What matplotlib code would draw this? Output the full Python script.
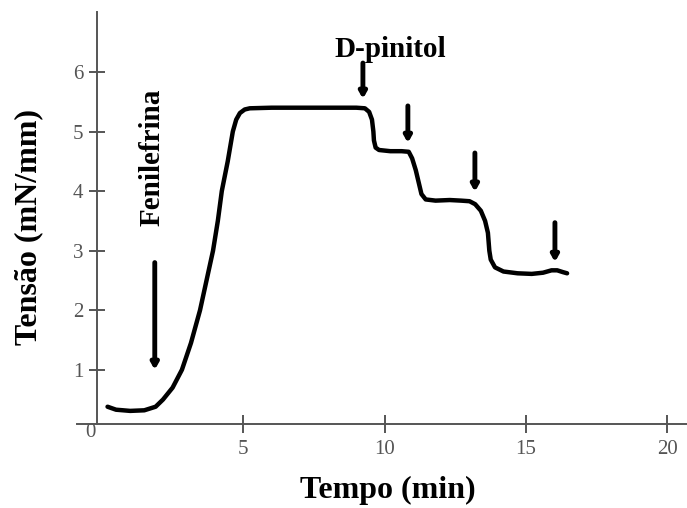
import matplotlib.pyplot as plt

plt.rcParams['font.family'] = ['Liberation Serif', 'DejaVu Serif']

# tension trace
tempo = [0.2, 0.5, 1.0, 1.5, 1.9, 2.16, 2.5, 2.83, 3.15, 3.47, 3.7, 3.93,
         4.1, 4.24, 4.45, 4.63, 4.75, 4.88, 5.05, 5.23, 6.0, 7.0, 8.0, 9.0,
         9.3, 9.45, 9.55, 9.6, 9.62, 9.68, 9.8, 10.2, 10.6, 10.85, 10.97,
         11.1, 11.2, 11.3, 11.45, 11.8, 12.3, 12.7, 13.0, 13.2, 13.4, 13.55,
         13.65, 13.7, 13.75, 13.9, 14.2, 14.7, 15.2, 15.6, 15.9, 16.1, 16.3,
         16.45]
tensao = [0.38, 0.33, 0.31, 0.32, 0.38, 0.5, 0.7, 1.0, 1.45, 2.0, 2.5, 3.0,
          3.5, 4.0, 4.5, 5.0, 5.2, 5.31, 5.37, 5.39, 5.40, 5.40, 5.40, 5.40,
          5.39, 5.33, 5.2, 5.0, 4.85, 4.73, 4.69, 4.67, 4.67, 4.66, 4.55,
          4.35, 4.15, 3.95, 3.86, 3.84, 3.85, 3.84, 3.83, 3.78, 3.67, 3.5,
          3.3, 3.0, 2.85, 2.72, 2.65, 2.62, 2.61, 2.63, 2.67, 2.67, 2.64,
          2.62]

# drug additions: (time, arrow top, arrow tip)
fenilefrina = (1.87, 2.8, 1.0)
pinitol = [(9.23, 6.15, 5.55), (10.82, 5.43, 4.81),
           (13.19, 4.64, 3.99), (16.02, 3.47, 2.81)]

fig = plt.figure(figsize=(6.87, 5.08), dpi=100)
ax = fig.add_axes([77 / 687, 84 / 508, 610 / 687, 411.6 / 508])

ax.plot(tempo, tensao, color='black', lw=3.2, solid_joinstyle='round',
        solid_capstyle='round')

arrow_style = dict(arrowstyle='-|>,head_length=0.35,head_width=0.2',
                   lw=3.5, color='black', shrinkA=0, shrinkB=0)
for x, y0, y1 in [fenilefrina] + pinitol:
    ax.annotate('', xy=(x, y1), xytext=(x, y0), arrowprops=arrow_style)

ax.text(1.77, 4.57, 'Fenilefrina', rotation=90, ha='center', va='center',
        fontsize=21, fontweight='bold')
ax.text(10.19, 6.38, 'D-pinitol', ha='center', va='center',
        fontsize=21, fontweight='bold')

ax.set_xlim(-0.88, 20.69)
ax.set_ylim(0.09, 7.0)
ax.spines['top'].set_visible(False)
ax.spines['right'].set_visible(False)
ax.spines['left'].set_position(('data', -0.18))
for s in ['left', 'bottom']:
    ax.spines[s].set_color('#555555')
    ax.spines[s].set_linewidth(1.4)

ax.set_xticks([5, 10, 15, 20])
ax.set_yticks([1, 2, 3, 4, 5, 6])
ax.tick_params(axis='both', direction='inout', color='#555555', width=1.4,
               labelsize=15, labelcolor='#555555')
ax.tick_params(axis='x', length=13, pad=5)
ax.tick_params(axis='y', length=11, pad=4)
ax.text(-0.42, -0.06, '0', ha='center', va='center', fontsize=15,
        color='#555555')

ax.set_xlabel('Tempo (min)', fontsize=23, fontweight='bold')
ax.xaxis.set_label_coords(388 / 687, 1 - 476 / 508, transform=fig.transFigure)
ax.set_ylabel('Tensão (mN/mm)', fontsize=23, fontweight='bold')
ax.yaxis.set_label_coords(43 / 687, 1 - 227 / 508, transform=fig.transFigure)

fig.savefig('out.png', dpi=100)
